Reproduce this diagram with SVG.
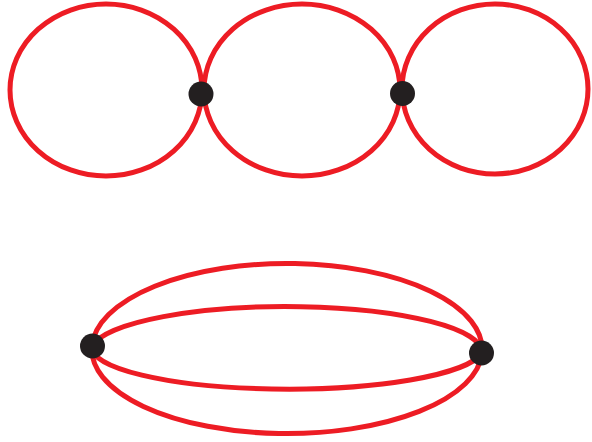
<svg xmlns="http://www.w3.org/2000/svg" width="592" height="442" viewBox="0 0 592 442">
<style>
.edge{fill:none;stroke:#ED1C24;stroke-width:5}
.dot{fill:#231F20}
</style>
<rect width="592" height="442" fill="#ffffff"/>
<g id="connectors">
<ellipse class="edge" cx="106" cy="90" rx="96" ry="86"/>
<ellipse class="edge" cx="302" cy="90" rx="98" ry="86"/>
<ellipse class="edge" cx="495" cy="89" rx="93" ry="85"/>
<path class="edge" d="M92,346 A195,86 0 0 1 482,353"/>
<path class="edge" d="M92,346 A196,46 0 0 1 482,353"/>
<path class="edge" d="M92,346 A196,42 0 0 0 482,353"/>
<path class="edge" d="M92,346 A195,84 0 0 0 482,353"/>
</g>
<g id="n1"><circle class="dot" cx="201" cy="94" r="12.5"/></g>
<g id="n2"><circle class="dot" cx="402.5" cy="93.5" r="12.5"/></g>
<g id="n3"><circle class="dot" cx="92.5" cy="346" r="12.5"/></g>
<g id="n4"><circle class="dot" cx="481.5" cy="353" r="12.5"/></g>
</svg>
